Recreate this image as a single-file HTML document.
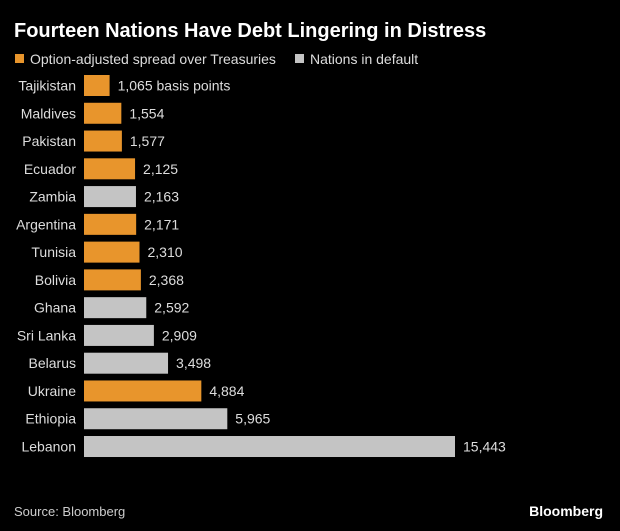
<!DOCTYPE html>
<html><head><meta charset="utf-8"><style>
body{margin:0;background:#000;width:620px;height:531px;overflow:hidden;font-family:"Liberation Sans",sans-serif;color:#fff}
svg{display:block}
</style></head><body>
<svg width="620" height="531">
<text x="14" y="37" font-size="20" font-weight="bold" fill="#fff">Fourteen Nations Have Debt Lingering in Distress</text>
<g>
<rect x="15" y="54" width="9" height="9" fill="#e8952c"/>
<text x="30" y="64" font-size="14" fill="#ddd">Option-adjusted spread over Treasuries</text>
<rect x="295" y="54" width="9" height="9" fill="#c4c4c4"/>
<text x="310" y="64" font-size="14" fill="#ddd">Nations in default</text>
</g>
<g id="bars"></g>
<text x="14" y="516" font-size="13" fill="#ccc">Source: Bloomberg</text>
<text x="603" y="516" font-size="14" font-weight="bold" fill="#fff" text-anchor="end">Bloomberg</text>
</svg>
<script>
const categories=["Tajikistan","Maldives","Pakistan","Ecuador","Zambia","Argentina","Tunisia","Bolivia","Ghana","Sri Lanka","Belarus","Ukraine","Ethiopia","Lebanon"];
const values=[1065,1554,1577,2125,2163,2171,2310,2368,2592,2909,3498,4884,5965,15443];
const inDefault=[false,false,false,false,true,false,false,false,true,true,true,false,true,true];
const x0=84,scale=(455-84)/15443,top0=75,pitch=27.77,bh=21;
const g=document.getElementById('bars');
const ns="http://www.w3.org/2000/svg";
categories.forEach((c,i)=>{
 const y=top0+i*pitch;
 const lab=document.createElementNS(ns,'text');
 
 
 lab.setAttribute('x',76);lab.setAttribute('y',y+bh/2+5);lab.setAttribute('text-anchor','end');
 lab.setAttribute('font-size','14');lab.setAttribute('fill','#ddd');lab.textContent=c;g.appendChild(lab);
 const w=values[i]*scale;
 const r=document.createElementNS(ns,'rect');
 
 
 r.setAttribute('x',x0);r.setAttribute('y',y);r.setAttribute('width',w);r.setAttribute('height',bh);
 r.setAttribute('fill',inDefault[i]?'#c4c4c4':'#e8952c');g.appendChild(r);
 const v=document.createElementNS(ns,'text');
 
 
 v.setAttribute('x',x0+w+8);v.setAttribute('y',y+bh/2+5);v.setAttribute('font-size','14');v.setAttribute('fill','#ddd');
 v.textContent=values[i].toLocaleString('en-US')+(i===0?' basis points':'');g.appendChild(v);
});
</script>
</body></html>
